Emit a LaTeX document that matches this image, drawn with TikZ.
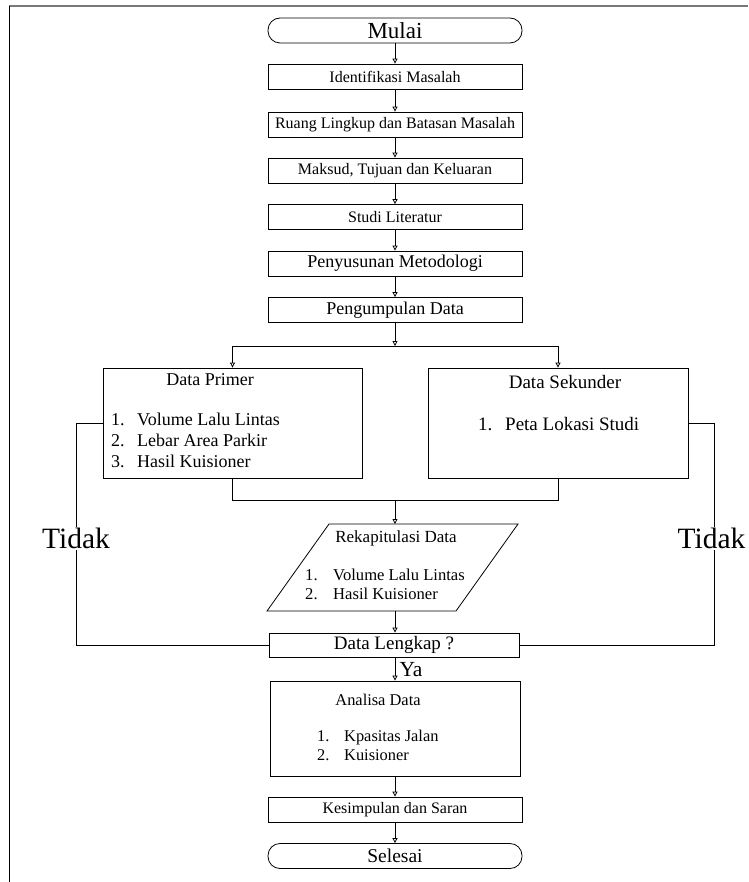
\documentclass[tikz,border=0pt]{standalone}
\usepackage{fontspec}
\setmainfont{Liberation Serif}
\usetikzlibrary{arrows.meta,calc}
\newcommand{\fs}[2]{\fontsize{#1}{#2}\selectfont}
\tikzset{
  box/.style={draw, line width=0.8pt, rectangle, inner sep=0pt, minimum width=254pt, minimum height=25pt},
  term/.style={box, rounded corners=12pt},
  bigbox/.style={draw, line width=0.8pt, rectangle, inner sep=0pt},
  txt/.style={inner sep=0pt, align=left},
  arr/.style={line width=0.8pt, -{Triangle[open, length=5pt, width=5pt]}},
  ln/.style={line width=0.8pt},
}
\begin{document}
\begin{tikzpicture}[x=1pt, y=-1pt]
\useasboundingbox (0,0) rectangle (748,882);
% frame
\draw[line width=2pt, color={rgb,255:red,120;green,120;blue,120}] (9,6.5) -- (748,6.5);
\draw[line width=1.4pt] (9.5,6) -- (9.5,882);

% nodes
\node[term] (mulai) at (395,30.5) {\fs{23}{26}Mulai};
\node[box] (ident) at (395,76.5) {\fs{16}{19}Identifikasi Masalah};
\node[box] (ruang) at (395,124.5) {\fs{16}{19}Ruang Lingkup dan Batasan Masalah};
\node[box] (maksud) at (395,170.5) {\fs{16}{19}Maksud, Tujuan dan Keluaran};
\node[box] (studi) at (395,217) {\fs{16}{19}Studi Literatur};
\node[box] (susun) at (395,263.5) {\fs{18}{21}Penyusunan Metodologi};
\node[box] (kumpul) at (395,310) {\fs{18}{21}Pengumpulan Data};

\node[bigbox, minimum width=259pt, minimum height=110pt] (primer) at (232.5,423) {};
\node[txt] (primerT) at (210,380) {\fs{18}{21}Data Primer};
\node[txt, anchor=west] (primerL) at (111,442) {\fs{18}{21}%
  \begin{tabular}{@{}l@{}l@{}}
  \makebox[26pt][l]{1.} & Volume Lalu Lintas\\
  \makebox[26pt][l]{2.} & Lebar Area Parkir\\
  \makebox[26pt][l]{3.} & Hasil Kuisioner
  \end{tabular}};

\node[bigbox, minimum width=260pt, minimum height=110pt] (sekunder) at (558,423) {};
\node[txt] (sekunderT) at (565,382) {\fs{19}{22}Data Sekunder};
\node[txt, anchor=west] (sekunderL) at (478,424) {\fs{19}{22}\makebox[27pt][l]{1.}Peta Lokasi Studi};

% parallelogram
\coordinate (rp1) at (329,524);
\coordinate (rp2) at (518,524);
\coordinate (rp3) at (456,611);
\coordinate (rp4) at (267,611);
\draw[ln] (rp1) -- (rp2) -- (rp3) -- (rp4) -- cycle;
\node[txt] (rekapT) at (396,538) {\fs{17}{20}Rekapitulasi Data};
\node[txt, anchor=west] (rekapL) at (305,586.5) {\fs{16.6}{19}%
  \begin{tabular}{@{}l@{}l@{}}
  \makebox[28pt][l]{1.} & Volume Lalu Lintas\\
  \makebox[28pt][l]{2.} & Hasil Kuisioner
  \end{tabular}};

\node[box, minimum width=250pt, minimum height=24pt] (lengkap) at (394,645) {\fs{19}{22}Data Lengkap ?};

\node[bigbox, minimum width=250pt, minimum height=95pt] (analisa) at (395,728.5) {};
\node[txt] (analisaT) at (378,700) {\fs{16.4}{19}Analisa Data};
\node[txt, anchor=west] (analisaL) at (317,747.5) {\fs{16.4}{19}%
  \begin{tabular}{@{}l@{}l@{}}
  \makebox[27pt][l]{1.} & Kpasitas Jalan\\
  \makebox[27pt][l]{2.} & Kuisioner
  \end{tabular}};

\node[box] (simpul) at (395,809.5) {\fs{16}{19}Kesimpulan dan Saran};
\node[term] (selesai) at (395,856) {\fs{19.5}{22}Selesai};

% connectors
\draw[arr] (mulai) -- (ident);
\draw[arr] (ident) -- (ruang);
\draw[arr] (ruang) -- (maksud);
\draw[arr] (maksud) -- (studi);
\draw[arr] (studi) -- (susun);
\draw[arr] (susun) -- (kumpul);

\coordinate (fork) at (395,346);
\draw[arr] (kumpul) -- (fork);
\draw[arr] (fork) -| (primer.north);
\draw[arr] (fork) -| (sekunder.north);

\coordinate (merge) at (395,500);
\coordinate (rtop) at (395,524);
\coordinate (rbot) at (395,611);
\draw[ln] (primer.south) |- (merge);
\draw[ln] (sekunder.south) |- (merge);
\draw[arr] (merge) -- (rtop);
\draw[arr] (rbot) -- (rbot |- lengkap.north);

\coordinate (lk) at (395,657);
\draw[arr] (lk) -- (lk |- analisa.north);
\draw[arr] (analisa) -- (simpul);
\draw[arr] (simpul) -- (selesai);

% Tidak loops
\coordinate (ltop) at (76,423);
\coordinate (rtopl) at (714,423);
\draw[ln] (primer.west) -- (ltop) |- (lengkap.west);
\draw[ln] (sekunder.east) -- (rtopl) |- (lengkap.east);
\node[fill=white, inner sep=1pt] (tidakL) at (76,538.5) {\fs{29.5}{32}Tidak};
\node[fill=white, inner sep=1pt] (tidakR) at (711.5,538.5) {\fs{29.5}{32}Tidak};
\node[txt] (ya) at (411,670) {\fs{21.5}{24}Ya};
\end{tikzpicture}
\end{document}
